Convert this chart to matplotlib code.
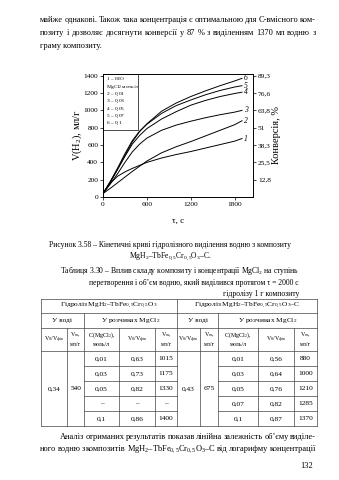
import matplotlib
matplotlib.use("Agg")
import matplotlib.pyplot as plt
from matplotlib.lines import Line2D
from matplotlib.patches import Rectangle

# hydrolysis kinetics: time, s and hydrogen volume, ml/g
t = [0, 100, 200, 300, 400, 500, 600, 800, 1000, 1200, 1400, 1600, 1800, 1900]
v_h2o = [40, 160, 240, 290, 330, 365, 400, 450, 490, 525, 565, 605, 645, 675]
v_001 = [40, 100, 165, 230, 295, 355, 415, 510, 580, 640, 705, 770, 835, 880]
v_003 = [40, 150, 270, 400, 520, 610, 680, 770, 830, 875, 915, 950, 980, 1000]
v_005 = [40, 175, 320, 470, 610, 710, 790, 900, 985, 1060, 1115, 1160, 1195, 1210]
v_007 = [40, 180, 335, 500, 650, 760, 840, 965, 1055, 1120, 1180, 1230, 1270, 1285]
v_01 = [40, 170, 320, 480, 635, 755, 845, 990, 1085, 1160, 1225, 1285, 1340, 1370]
curves = [v_h2o, v_001, v_003, v_005, v_007, v_01]
curve_names = ["1", "2", "3", "4", "5", "6"]

v_ticks = [0, 200, 400, 600, 800, 1000, 1200, 1400]
conv_ticks = [200, 400, 600, 800, 1000, 1200, 1400]
conv_labels = ["12,8", "25,5", "38,3", "51", "63,8", "76,6", "89,3"]
legend_lines = [r"$\mathit{1}$ – H$_2$O", r"MgCl$_2$ моль/л", r"$\mathit{2}$ – 0,01",
                r"$\mathit{3}$ – 0,03", r"$\mathit{4}$ – 0,05", r"$\mathit{5}$ – 0,07",
                r"$\mathit{6}$ – 0,1"]

# table 3.30
left_ratio, left_vol = "0,34", "540"
left_conc = ["0,01", "0,03", "0,05", "–", "0,1"]
left_frac = ["0,63", "0,73", "0,82", "–", "0,86"]
left_v = ["1015", "1175", "1330", "–", "1400"]
right_ratio, right_vol = "0,43", "675"
right_conc = ["0,01", "0,03", "0,05", "0,07", "0,1"]
right_frac = ["0,56", "0,64", "0,76", "0,82", "0,87"]
right_v = ["880", "1000", "1210", "1285", "1370"]

plt.rcParams["font.family"] = ["Liberation Serif", "DejaVu Serif"]
plt.rcParams["mathtext.fontset"] = "custom"
plt.rcParams["mathtext.rm"] = "Liberation Serif"
plt.rcParams["mathtext.it"] = "Liberation Serif:italic"
plt.rcParams["mathtext.bf"] = "Liberation Serif:bold"

W, H = 339, 480
fig = plt.figure(figsize=(W / 100, H / 100), dpi=100)
fig.patch.set_facecolor("white")
renderer = fig.canvas.get_renderer()

FS = 6.0
CS = 5.5


def put(x, y, s, size=FS, ha="left", **kw):
    return fig.text(x / W, 1 - y / H, s, fontsize=size, ha=ha, va="center", **kw)


def justify(s, y, x0, x1, size=FS):
    words = s.split(" ")
    objs = [put(0, y, w, size) for w in words]
    widths = [o.get_window_extent(renderer).width for o in objs]
    gap = (x1 - x0 - sum(widths)) / (len(words) - 1)
    x = x0
    for o, w in zip(objs, widths):
        o.set_x(x / W)
        x += w + gap


def hline(y, x0, x1):
    fig.add_artist(Line2D([x0 / W, x1 / W], [1 - y / H] * 2, lw=0.5, color="#444444"))


def vline(x, y0, y1):
    fig.add_artist(Line2D([x / W] * 2, [1 - y0 / H, 1 - y1 / H], lw=0.5, color="#444444"))


# body text above the figure
TL, TR = 40, 316
justify("майже однакові. Також така концентрація є оптимальною для С-вмісного ком-", 20, TL, TR)
justify("позиту і дозволяє досягнути конверсії у 87 % з виділенням 1370 мл водню з", 33, TL, TR)
put(TL, 46, "граму композиту.")

# kinetic curves
ax = fig.add_axes([103 / W, 1 - 197 / H, 150 / W, 123 / H])
for v, name in zip(curves, curve_names):
    ax.plot(t, v, color="black", lw=0.7)
    ax.text(1950, v[-1], name, fontsize=5.5, style="italic", ha="center", va="center")
ax.set_xlim(0, 2050)
ax.set_ylim(0, 1420)
ax.set_xticks([0, 600, 1200, 1800])
ax.set_yticks(v_ticks)
ax.tick_params(direction="out", length=2, width=0.5, labelsize=5.3, pad=1.5)
for sp in ax.spines.values():
    sp.set_linewidth(0.6)
ax.set_xlabel("τ, с", fontsize=6.5, labelpad=7)
ax.set_ylabel("V(H$_2$), мл/г", fontsize=7.5, labelpad=0)

ax2 = ax.twinx()
ax2.set_ylim(ax.get_ylim())
ax2.set_yticks(conv_ticks)
ax2.set_yticklabels(conv_labels)
ax2.tick_params(direction="out", length=2, width=0.5, labelsize=5.3, pad=1.5)
for sp in ax2.spines.values():
    sp.set_linewidth(0.6)
ax2.set_ylabel("Конверсія, %", fontsize=7.5, labelpad=1)

ax.add_patch(Rectangle((0, 0.545), 0.23, 0.455, transform=ax.transAxes,
                       fill=False, lw=0.5, ec="black"))
for i, s in enumerate(legend_lines):
    ax.text(0.02, 0.955 - i * 0.06, s, transform=ax.transAxes, fontsize=3.9, va="center")

# captions
put(170, 245, "Рисунок 3.58 – Кінетичні криві гідролізного виділення водню з композиту", CS, "center")
put(170, 256, "MgH$_2$–TbFe$_{0,5}$Cr$_{0,5}$O$_3$–C.", CS, "center")
put(299, 271, "Таблиця 3.30 – Вплив складу композиту і концентрації MgCl$_2$ на ступінь", CS, "right")
put(299, 283, "перетворення і об’єм водню, який виділився протягом τ = 2000 с", CS, "right")
put(299, 294, "гідролізу 1 г композиту", CS, "right")

# table grid
cols = [41, 67, 84, 119, 155, 177, 200, 218, 258, 294, 317]
r0, r1, r2, r3 = 299, 313, 328, 351
rh = 15
bottom = r3 + 5 * rh
for y in (r0, r1, r2, r3, bottom):
    hline(y, cols[0], cols[-1])
for k in range(1, 5):
    hline(r3 + k * rh, cols[2], cols[5])
    hline(r3 + k * rh, cols[7], cols[10])
for x in (cols[0], cols[5], cols[10]):
    vline(x, r0, bottom)
for x in (cols[2], cols[7]):
    vline(x, r1, bottom)
for x in (cols[1], cols[3], cols[4], cols[6], cols[8], cols[9]):
    vline(x, r2, bottom)

TS = 5.3


def mid(a, b):
    return (cols[a] + cols[b]) / 2


put(mid(0, 5), (r0 + r1) / 2, "Гідроліз MgH$_2$–TbFe$_{0,5}$Cr$_{0,5}$O$_3$", TS, "center")
put(mid(5, 10), (r0 + r1) / 2, "Гідроліз MgH$_2$–TbFe$_{0,5}$Cr$_{0,5}$O$_3$–C", TS, "center")
for a in (0, 5):
    put(mid(a, a + 2), (r1 + r2) / 2, "У воді", TS, "center")
    put(mid(a + 2, a + 5), (r1 + r2) / 2, "У розчинах MgCl$_2$", TS, "center")
    hs = 4.3
    yc = (r2 + r3) / 2
    put(mid(a, a + 1), yc, "V$_0$/V$_{фін}$", hs, "center")
    put(mid(a + 1, a + 2), yc - 4.5, "V$_т$,", hs, "center")
    put(mid(a + 1, a + 2), yc + 4.5, "мл/г", hs, "center")
    put(mid(a + 2, a + 3), yc - 4.5, "C(MgCl$_2$),", hs, "center")
    put(mid(a + 2, a + 3), yc + 4.5, "моль/л", hs, "center")
    put(mid(a + 3, a + 4), yc, "V$_0$/V$_{фін}$", hs, "center")
    put(mid(a + 4, a + 5), yc - 4.5, "V$_т$,", hs, "center")
    put(mid(a + 4, a + 5), yc + 4.5, "мл/г", hs, "center")

ymid = r3 + 2.5 * rh
put(mid(0, 1), ymid, left_ratio, TS, "center")
put(mid(1, 2), ymid, left_vol, TS, "center")
put(mid(5, 6), ymid, right_ratio, TS, "center")
put(mid(6, 7), ymid, right_vol, TS, "center")
for i in range(5):
    y = r3 + (i + 0.5) * rh
    put(mid(2, 3), y, left_conc[i], TS, "center")
    put(mid(3, 4), y, left_frac[i], TS, "center")
    put(mid(4, 5), y, left_v[i], TS, "center")
    put(mid(7, 8), y, right_conc[i], TS, "center")
    put(mid(8, 9), y, right_frac[i], TS, "center")
    put(mid(9, 10), y, right_v[i], TS, "center")

# text after the table
justify("Аналіз отриманих результатів показав лінійна залежність об’єму виділе-", 437, 60, TR)
justify("ного водню з композитів MgH$_2$–TbFe$_{0,5}$Cr$_{0,5}$O$_3$–C від логарифму концентрації", 449, TL, TR)
put(313, 466, "132", ha="right")

fig.savefig("out.png", dpi=100)
